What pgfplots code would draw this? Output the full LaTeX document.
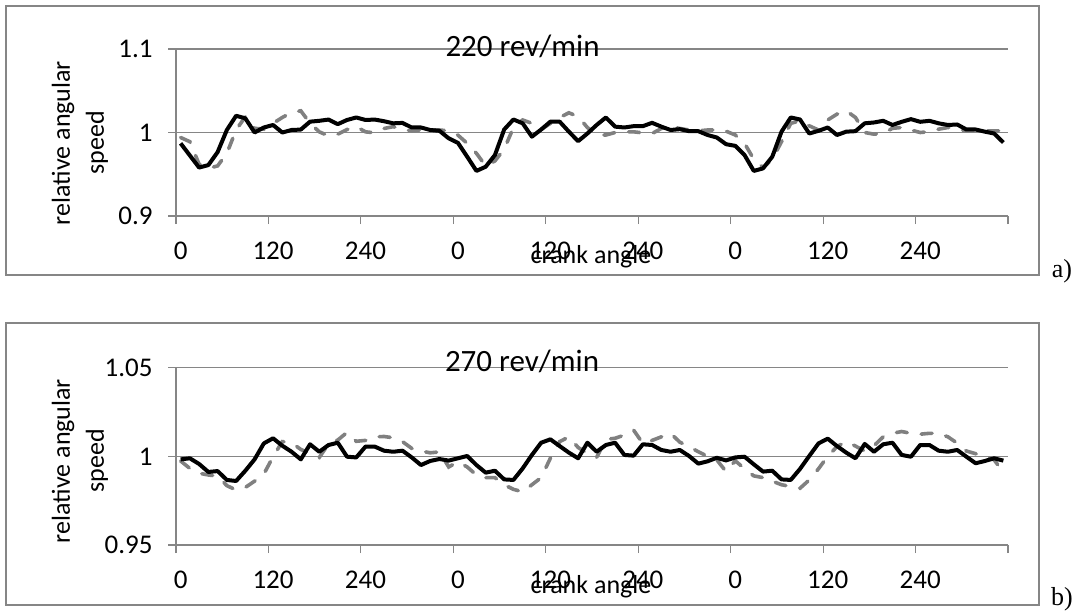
\documentclass[border=0pt]{standalone}
\usepackage{fontspec}
\setmainfont{Carlito}
\newfontfamily\serif{Liberation Serif}
\usepackage{pgfplots}
\pgfplotsset{compat=1.18}
\usepackage{pgfplotstable}

\definecolor{gridc}{RGB}{134,134,134}
\definecolor{serg}{RGB}{128,128,128}

% k = sample index (12 deg steps, 3 cycles); tb/tg = 220 rev/min, bb/bg = 270 rev/min
\pgfplotstableread{
k tb tg bb bg
0 0.987 0.994 0.9983 0.9974
1 0.9725 0.989 0.9989 0.9932
2 0.958 0.962 0.9957 0.9905
3 0.961 0.957 0.9912 0.9895
4 0.9765 0.960 0.9917 0.9889
5 1.003 0.975 0.9867 0.9835
6 1.020 1.003 0.9861 0.9810
7 1.017 1.019 0.9919 0.9825
8 1.000 1.005 0.9983 0.9860
9 1.006 1.004 1.0073 0.9900
10 1.009 1.011 1.0102 0.9998
11 1.000 1.018 1.0060 1.0083
12 1.003 1.024 1.0026 1.0077
13 1.0035 1.026 0.9983 1.0039
14 1.013 1.011 1.0068 1.0017
15 1.014 1.0008 1.0026 0.9994
16 1.0155 0.996 1.0064 1.0070
17 1.010 0.998 1.0077 1.0092
18 1.015 1.0036 0.9998 1.0135
19 1.018 1.007 0.9994 1.0085
20 1.015 1.0008 1.0055 1.0090
21 1.0155 0.9996 1.0055 1.0110
22 1.0135 1.0048 1.0032 1.0112
23 1.011 1.007 1.0026 1.0105
24 1.0115 1.0036 1.0032 1.0083
25 1.006 1.002 0.9994 1.0045
26 1.006 1.003 0.9951 1.0030
27 1.003 1.003 0.9974 1.0020
28 1.002 1.003 0.9985 1.0025
29 0.993 1.002 0.9976 0.9940
30 0.9876 0.9968 0.9989 0.997
31 0.971 0.987 1.0002 0.994
32 0.954 0.975 0.9951 0.9895
33 0.959 0.960 0.9908 0.988
34 0.973 0.966 0.9919 0.988
35 1.0036 0.980 0.9870 0.984
36 1.0156 1.006 0.9867 0.9814
37 1.011 1.015 0.9932 0.980
38 0.995 1.011 1.0008 0.984
39 1.0036 1.0036 1.0077 0.988
40 1.013 1.011 1.0096 0.999
41 1.013 1.018 1.0058 1.0083
42 1.001 1.0236 1.0021 1.011
43 0.9896 1.019 0.9989 1.005
44 0.9988 1.006 1.0077 1.0017
45 1.009 0.997 1.0026 0.9994
46 1.018 0.997 1.0064 1.0096
47 1.007 1.000 1.0077 1.0102
48 1.006 1.0008 1.0008 1.012
49 1.0076 1.0008 1.0004 1.0148
50 1.0076 0.9996 1.0068 1.0073
51 1.0116 0.9988 1.0064 1.009
52 1.007 1.0048 1.0036 1.011
53 1.003 1.007 1.0026 1.013
54 1.004 1.0048 1.0036 1.008
55 1.0016 1.003 1.0002 1.0055
56 1.0016 1.002 0.9959 1.0026
57 0.997 1.003 0.9972 1.000
58 0.994 1.003 0.9992 0.998
59 0.986 1.0016 0.9977 0.9914
60 0.984 0.997 0.9994 0.9975
61 0.973 0.987 0.9998 0.993
62 0.954 0.968 0.9955 0.989
63 0.957 0.958 0.9914 0.988
64 0.971 0.968 0.9919 0.986
65 1.001 0.989 0.9870 0.984
66 1.018 1.011 0.9867 0.983
67 1.0156 1.014 0.9929 0.982
68 0.9988 1.008 1.0002 0.9867
69 1.002 1.003 1.0073 0.993
70 1.006 1.015 1.0100 1.000
71 0.997 1.022 1.0058 1.0055
72 1.001 1.026 1.0021 1.0083
73 1.0016 1.018 0.9989 1.0058
74 1.011 1.000 1.0070 1.003
75 1.012 0.998 1.0026 1.006
76 1.014 0.999 1.0068 1.011
77 1.009 1.005 1.0077 1.013
78 1.0128 1.006 1.0008 1.014
79 1.016 1.003 0.9998 1.013
80 1.0128 1.000 1.0064 1.0125
81 1.014 1.001 1.0064 1.013
82 1.011 1.004 1.0032 1.013
83 1.009 1.006 1.0026 1.011
84 1.0096 1.004 1.0036 1.0075
85 1.0036 1.002 0.9998 1.003
86 1.0036 1.002 0.9961 1.0015
87 1.001 1.002 0.9974 1.0005
88 0.9988 1.002 0.9989 0.998
89 0.988 1.002 0.9976 0.991
}\speeds

\pgfplotsset{
  panel/.style={
    scale only axis, width=416pt,
    xmin=-0.5, xmax=89.5,
    axis lines*=left,
    axis line style={gridc, line width=0.6pt},
    ymajorgrids, grid style={gridc, line width=0.6pt},
    tick align=outside, major tick length=4pt,
    tick style={gridc, line width=0.6pt},
    xtick={-0.5,9.5,...,89.5},
    xticklabels={0,120,240,0,120,240,0,120,240,{}},
    tick label style={font=\fontsize{13.5}{15}\selectfont, inner sep=0pt},
    xticklabel style={anchor=north, xshift=2.31pt, yshift=-9pt},
    yticklabel style={anchor=east, xshift=-7.5pt},
    /pgf/number format/assume math mode=true,
  },
  grayline/.style={serg, line width=1.8pt, line cap=round, dash pattern=on 5.5pt off 7pt},
  blackline/.style={black, line width=2pt, line join=round},
}

\begin{document}
\begin{tikzpicture}
\useasboundingbox (0,0) rectangle (540pt,-307.5pt);

% panel a
\draw[gridc, line width=0.75pt] (3pt,-3pt) rectangle (519.5pt,-137.5pt);
\begin{axis}[panel, at={(88pt,-108pt)}, anchor=south west, height=83.5pt,
  ymin=0.9, ymax=1.1, ytick={0.9,1,1.1}, yticklabels={0.9,1,1.1}]
\addplot[grayline] table[x=k, y=tg] {\speeds};
\addplot[blackline] table[x=k, y=tb] {\speeds};
\end{axis}
\node[font=\fontsize{15.5}{18}\selectfont, anchor=base] at (261.25pt,-28.5pt) {220 rev/min};
\node[font=\fontsize{13}{15}\selectfont, anchor=base] at (295.5pt,-131.5pt) {crank angle};
\node[rotate=90, align=center, font=\fontsize{13}{17}\selectfont] at (40pt,-71.5pt) {relative angular\\speed};
\node[font=\serif\fontsize{13}{15}\selectfont, anchor=base] at (531pt,-138.5pt) {a)};

% panel b
\draw[gridc, line width=0.75pt] (3pt,-161.5pt) rectangle (519.5pt,-302.5pt);
\begin{axis}[panel, at={(88pt,-272.5pt)}, anchor=south west, height=88.65pt,
  ymin=0.95, ymax=1.05, ytick={0.95,1,1.05}, yticklabels={0.95,1,1.05}]
\addplot[grayline] table[x=k, y=bg] {\speeds};
\addplot[blackline] table[x=k, y=bb] {\speeds};
\end{axis}
\node[font=\fontsize{15.5}{18}\selectfont, anchor=base] at (261pt,-185.8pt) {270 rev/min};
\node[font=\fontsize{13}{15}\selectfont, anchor=base] at (295.5pt,-296.5pt) {crank angle};
\node[rotate=90, align=center, font=\fontsize{13}{17}\selectfont] at (40pt,-230.5pt) {relative angular\\speed};
\node[font=\serif\fontsize{13}{15}\selectfont, anchor=base] at (531pt,-302.5pt) {b)};
\end{tikzpicture}
\end{document}
